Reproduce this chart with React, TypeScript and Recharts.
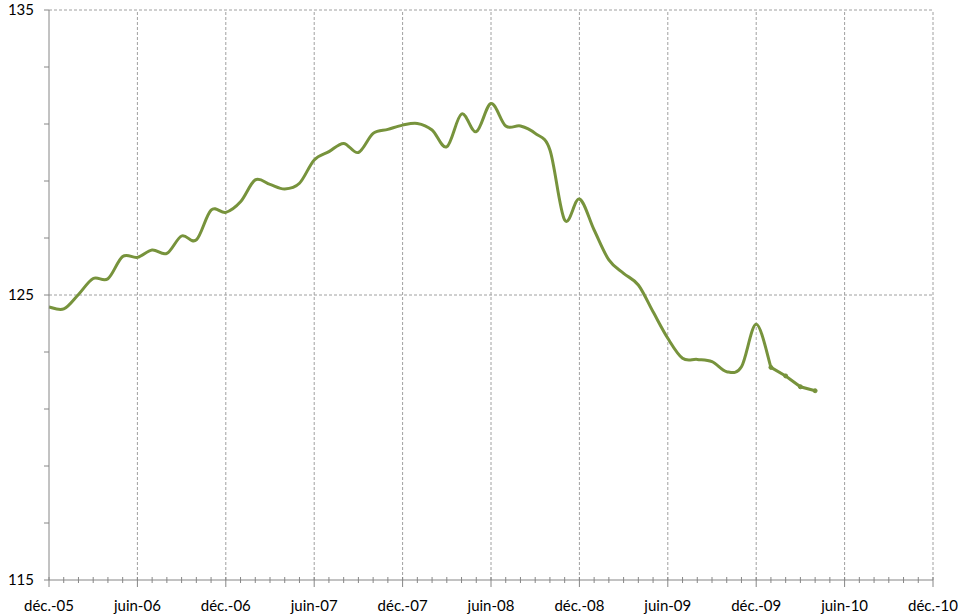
import React from 'react';
import { LineChart, Line, XAxis, YAxis, ReferenceLine } from 'recharts';

// monthly index, déc.-05 .. janv.-10
const indexValues = [
  124.58, 124.51, 125.02, 125.58, 125.57, 126.35, 126.32, 126.58, 126.46, 127.07,
  126.93, 127.98, 127.9, 128.27, 129.04, 128.88, 128.72, 128.92, 129.74, 130.03,
  130.32, 130.0, 130.67, 130.81, 130.96, 131.02, 130.79, 130.2, 131.35, 130.73,
  131.72, 130.93, 130.93, 130.67, 130.09, 127.63, 128.37, 127.28, 126.23, 125.76,
  125.35, 124.41, 123.48, 122.78, 122.74, 122.66, 122.31, 122.48, 123.97, 122.46,
];
// provisional points, janv.-10 .. avr.-10
const provisionalStart = 49;
const provisionalValues = [122.46, 122.16, 121.78, 121.64];

const tickLabels = [
  'déc.-05', 'juin-06', 'déc.-06', 'juin-07', 'déc.-07', 'juin-08',
  'déc.-08', 'juin-09', 'déc.-09', 'juin-10', 'déc.-10',
];
const monthTicks = Array.from({ length: 61 }, (_, i) => i);
const yTicks = [115, 117, 119, 121, 123, 125, 127, 129, 131, 133, 135];
const yLabels = [115, 125, 135];
const yGrid = [125, 135];

const data = Array.from({ length: provisionalStart + provisionalValues.length }, (_, i) => ({
  m: i,
  v: i < indexValues.length ? indexValues[i] : null,
  p: i >= provisionalStart ? provisionalValues[i - provisionalStart] : null,
}));

const GREEN = '#77933C';
const AXIS = '#868686';
const GRID = '#a0a0a0';
const FONT = 'Lato, "Open Sans", sans-serif';

// Excel-like smoothing (Catmull-Rom)
const smooth = (context: any) => {
  let pts: number[][] = [];
  return {
    areaStart() {},
    areaEnd() {},
    lineStart() {
      pts = [];
    },
    point(x: number, y: number) {
      pts.push([+x, +y]);
    },
    lineEnd() {
      if (!pts.length) return;
      context.moveTo(pts[0][0], pts[0][1]);
      for (let k = 0; k < pts.length - 1; k++) {
        const p0 = pts[k - 1] || pts[k];
        const p1 = pts[k];
        const p2 = pts[k + 1];
        const p3 = pts[k + 2] || p2;
        context.bezierCurveTo(
          p1[0] + (p2[0] - p0[0]) / 6,
          p1[1] + (p2[1] - p0[1]) / 6,
          p2[0] - (p3[0] - p1[0]) / 6,
          p2[1] - (p3[1] - p1[1]) / 6,
          p2[0],
          p2[1]
        );
      }
    },
  };
};

const XTick = (props: any) => {
  const { x, y, payload } = props;
  const major = payload.value % 6 === 0;
  return (
    <g>
      <line x1={x} x2={x} y1={y - 3} y2={major ? y + 7 : y + 3} stroke={AXIS} />
      {major && (
        <text x={x} y={y + 31} textAnchor="middle" fontSize={15} fill="#000" fontFamily={FONT}>
          {tickLabels[payload.value / 6]}
        </text>
      )}
    </g>
  );
};

const YTick = (props: any) => {
  const { x, y, payload } = props;
  return (
    <g>
      <line x1={x - 5} x2={x} y1={y} y2={y} stroke={AXIS} />
      {yLabels.includes(payload.value) && (
        <text x={x - 15} y={y + 5} textAnchor="end" fontSize={15} fill="#000" fontFamily={FONT}>
          {payload.value}
        </text>
      )}
    </g>
  );
};

export default function App() {
  return (
    <div style={{ position: 'absolute', left: 0, top: 0, background: '#fff' }}>
      <LineChart width={958} height={615} data={data} margin={{ top: 10, right: 25, bottom: 0, left: 0 }}>
        {yGrid.map(v => (
          <ReferenceLine key={`y${v}`} y={v} stroke={GRID} strokeDasharray="3 2" />
        ))}
        {tickLabels.slice(1).map((_, k) => (
          <ReferenceLine key={`x${k}`} x={(k + 1) * 6} stroke={GRID} strokeDasharray="3 2" />
        ))}
        <XAxis
          dataKey="m"
          type="number"
          domain={[0, 60]}
          ticks={monthTicks}
          interval={0}
          height={35}
          tickSize={0}
          tickMargin={0}
          tickLine={false}
          axisLine={{ stroke: AXIS }}
          tick={<XTick />}
        />
        <YAxis
          type="number"
          domain={[115, 135]}
          ticks={yTicks}
          interval={0}
          width={49}
          tickSize={0}
          tickMargin={0}
          tickLine={false}
          axisLine={{ stroke: AXIS }}
          tick={<YTick />}
        />
        <Line
          dataKey="v"
          type={smooth as any}
          stroke={GREEN}
          strokeWidth={3}
          dot={false}
          isAnimationActive={false}
        />
        <Line
          dataKey="p"
          type="linear"
          stroke={GREEN}
          strokeWidth={3}
          dot={{ r: 2, fill: GREEN, stroke: GREEN, strokeWidth: 1 }}
          isAnimationActive={false}
        />
      </LineChart>
    </div>
  );
}
